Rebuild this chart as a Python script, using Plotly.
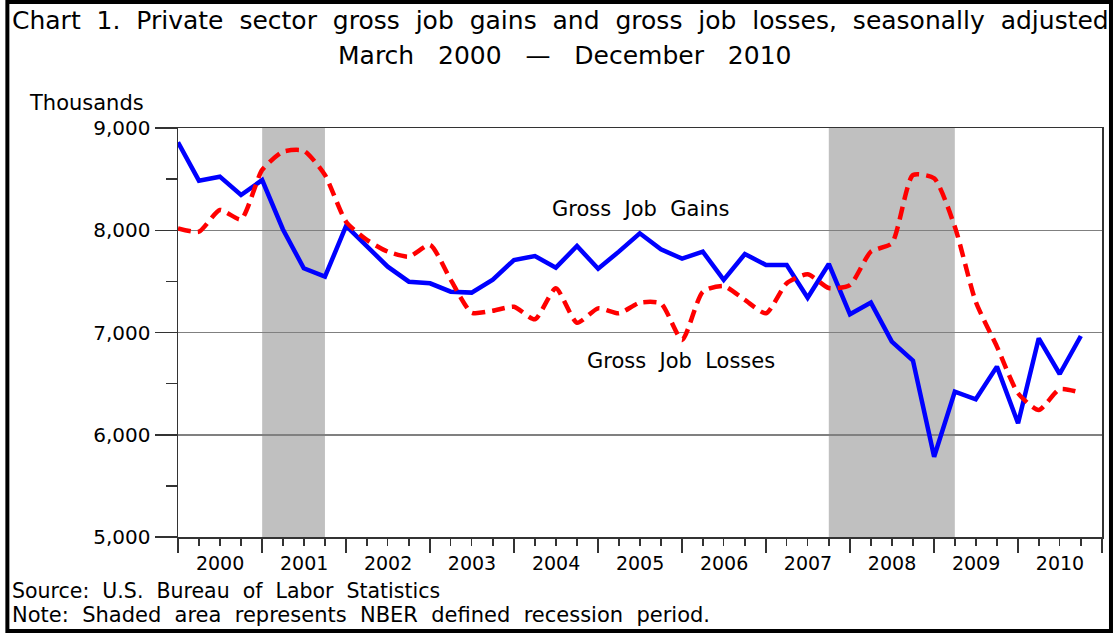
import plotly.graph_objects as go

# ---- data ----
years = list(range(2000, 2011))
quarter_months = ["01", "04", "07", "10"]
quarters = [f"{y}-{m}-01" for y in years for m in quarter_months]

gross_job_gains = [
    8860, 8485, 8524, 8345,   # 2000
    8491, 8010, 7628, 7546,   # 2001
    8042, 7839, 7644, 7497,   # 2002
    7481, 7399, 7390, 7517,   # 2003
    7709, 7748, 7634, 7846,   # 2004
    7624, 7791, 7970, 7813,   # 2005
    7722, 7791, 7514, 7768,   # 2006
    7660, 7660, 7340, 7670,   # 2007
    7178, 7292, 6911, 6725,   # 2008
    5785, 6422, 6347, 6666,   # 2009
    6112, 6943, 6594, 6966,   # 2010
]
gross_job_losses = [
    8019, 7986, 8198, 8107,   # 2000
    8590, 8768, 8778, 8540,   # 2001
    8083, 7906, 7791, 7742,   # 2002
    7856, 7514, 7194, 7213,   # 2003
    7252, 7129, 7432, 7096,   # 2004
    7236, 7188, 7292, 7285,   # 2005
    6927, 7399, 7455, 7318,   # 2006
    7188, 7481, 7570, 7435,   # 2007
    7464, 7791, 7872, 8540,   # 2008
    8508, 8035, 7301, 6862,   # 2009
    6406, 6242, 6445, 6411,   # 2010
]
recessions = [("2001-01-01", "2001-10-01"), ("2007-10-01", "2009-04-01")]

series_names = ["Gross Job Gains", "Gross Job Losses"]
y_ticks = [5000, 6000, 7000, 8000, 9000]

title_line1 = "Chart 1. Private sector gross job gains and gross job losses, seasonally adjusted"
title_line2 = "March 2000 \u2014 December 2010"
y_title = "Thousands"
source_text = "Source: U.S. Bureau of Labor Statistics"
note_text = "Note: Shaded area represents NBER defined recession period."


def wide(s, n=1):
    # the original typeface uses wide word spacing
    return s.replace(" ", "\u00a0" * n + " ")


# ---- layout geometry (pixels) ----
W, H = 1116, 633
L, R, T, B = 178, 12, 128, 96
PW, PH = W - L - R, H - T - B


def px(x):
    return (x - L) / PW


def py(y):
    return (H - B - y) / PH


FONT = "DejaVu Sans"

fig = go.Figure()
fig.add_trace(go.Scatter(
    x=quarters, y=gross_job_gains, mode="lines", name=series_names[0],
    line=dict(color="#0000FF", width=4.5), showlegend=False, hoverinfo="skip",
))
fig.add_trace(go.Scatter(
    x=quarters, y=gross_job_losses, mode="lines", name=series_names[1],
    line=dict(color="#FF0000", width=4.5, dash="13px,7px", shape="spline", smoothing=0.6),
    showlegend=False, hoverinfo="skip",
))

shapes = []
for a, b in recessions:
    shapes.append(dict(type="rect", xref="x", yref="paper", x0=a, x1=b, y0=0, y1=1,
                       fillcolor="#C0C0C0", line=dict(width=0), layer="below"))
# outer frame
shapes.append(dict(type="rect", xref="paper", yref="paper",
                   x0=px(7), x1=px(1113), y0=py(631), y1=py(2),
                   line=dict(color="black", width=4), fillcolor="rgba(0,0,0,0)"))
fig.update_layout(shapes=shapes)

ann = []
ann.append(dict(text=wide(title_line1), x=px(10), y=py(21), xanchor="left", yanchor="middle",
                font=dict(size=25, family=FONT, color="black")))
ann.append(dict(text=wide(title_line2, 2), x=px(565), y=py(55), xanchor="center", yanchor="middle",
                font=dict(size=25, family=FONT, color="black")))
ann.append(dict(text=y_title, x=px(27), y=py(103), xanchor="left", yanchor="middle",
                font=dict(size=21, family=FONT, color="black")))
ann.append(dict(text=wide(source_text), x=px(10), y=py(591), xanchor="left", yanchor="middle",
                font=dict(size=20.5, family=FONT, color="black")))
ann.append(dict(text=wide(note_text), x=px(10), y=py(615), xanchor="left", yanchor="middle",
                font=dict(size=21, family=FONT, color="black")))
ann.append(dict(text=wide(series_names[0]), x=px(641), y=py(209), xanchor="center", yanchor="middle",
                font=dict(size=21, family=FONT, color="black")))
ann.append(dict(text=wide(series_names[1]), x=px(682), y=py(361), xanchor="center", yanchor="middle",
                font=dict(size=21, family=FONT, color="black")))
for a in ann:
    a.update(xref="paper", yref="paper", showarrow=False)
fig.update_layout(annotations=ann)

fig.update_layout(
    width=W, height=H,
    margin=dict(l=L, r=R, t=T, b=B, pad=0),
    paper_bgcolor="white", plot_bgcolor="white",
    font=dict(family=FONT, size=20, color="black"),
    hovermode=False,
    xaxis=dict(
        type="date", range=["2000-01-01", "2011-01-01"],
        tick0="2000-01-01", dtick="M12", tickformat="%Y", ticklabelmode="period",
        ticks="outside", ticklen=14, tickwidth=1.5, tickcolor="#333",
        ticklabelstandoff=-5,
        minor=dict(dtick="M3", ticks="outside", ticklen=7, tickwidth=1.5, tickcolor="#333", showgrid=False),
        showline=True, linecolor="#333", linewidth=1.5, mirror=True,
        showgrid=False, zeroline=False,
        tickfont=dict(size=19, family=FONT),
    ),
    yaxis=dict(
        range=[5000, 9000], tickvals=y_ticks, tickformat=",d",
        ticks="outside", ticklen=22, tickwidth=1.5, tickcolor="#333",
        minor=dict(dtick=500, ticks="outside", ticklen=11, tickwidth=1.5, tickcolor="#333", showgrid=False),
        showline=True, linecolor="#333", linewidth=1.5, mirror=True,
        showgrid=True, gridcolor="#808080", gridwidth=1.5, zeroline=False,
        tickfont=dict(size=20, family=FONT),
    ),
)

fig.write_html("out.html", config={"displayModeBar": False, "staticPlot": True},
               post_script="document.body.style.margin='0';document.body.style.overflow='hidden';")
